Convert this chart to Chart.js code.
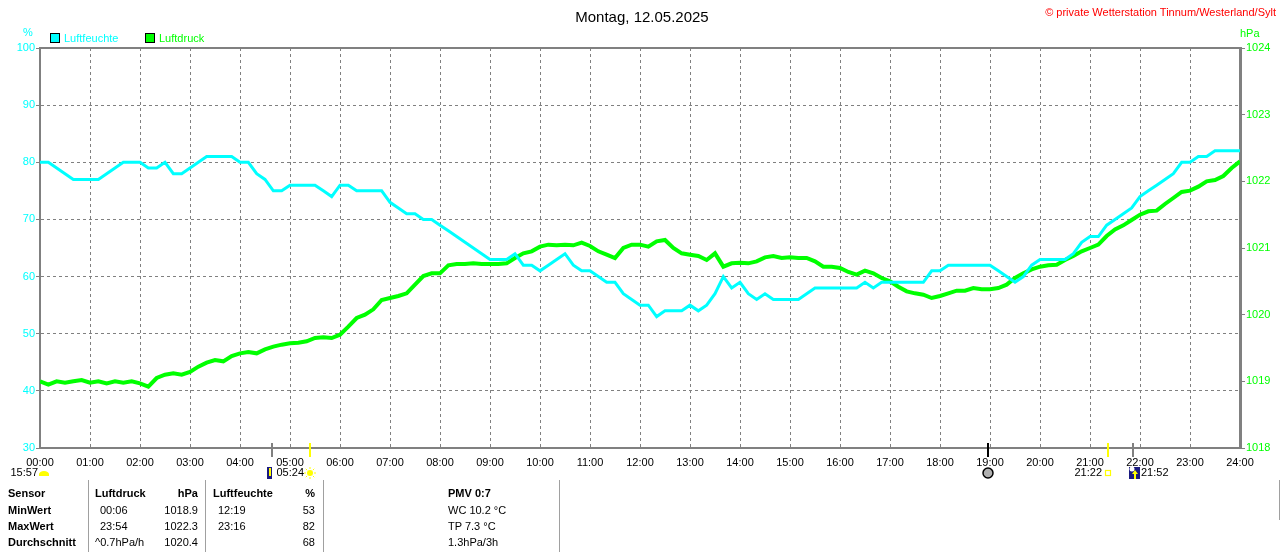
<!DOCTYPE html>
<html>
<head>
<meta charset="utf-8">
<script src="https://cdn.jsdelivr.net/npm/chart.js@4.4.1/dist/chart.umd.min.js"></script>
<style>
body{margin:0;background:#fff;font-family:"Liberation Sans",Arial,sans-serif;}
#wrap{position:relative;width:1280px;height:552px;overflow:hidden;}
#wrap canvas{position:absolute;left:0;top:0;}
.t{position:absolute;font-size:11px;line-height:14px;white-space:nowrap;color:#000;}
.b{font-weight:bold;}
.sep{position:absolute;top:480px;width:1px;height:72px;background:#a0a0a0;}
.box{position:absolute;top:33px;width:8px;height:8px;border:1px solid #000;}
</style>
</head>
<body>
<div id="wrap">
  <canvas id="wetter" width="1280" height="552"></canvas>

  <div class="t" style="left:0;width:1284px;text-align:center;top:8px;font-size:15px;line-height:17px;">Montag, 12.05.2025</div>
  <div class="t" style="right:4px;top:5px;color:#ff0000;">© private Wetterstation Tinnum/Westerland/Sylt</div>

  <div class="t" style="left:23px;top:25px;color:#00ffff;">%</div>
  <div class="t" style="left:1240px;top:26px;color:#00ff00;">hPa</div>

  <div class="box" style="left:50px;background:#00ffff;"></div>
  <div class="t" style="left:64px;top:31px;color:#00ffff;">Luftfeuchte</div>
  <div class="box" style="left:145px;background:#00ff00;"></div>
  <div class="t" style="left:159px;top:31px;color:#00ff00;">Luftdruck</div>

  <div class="sep" style="left:88px;"></div>
  <div class="sep" style="left:205px;"></div>
  <div class="sep" style="left:323px;"></div>
  <div class="sep" style="left:559px;"></div>
  <div class="sep" style="left:1279px;height:40px;"></div>

  <div class="t b" style="left:8px;top:486px;">Sensor</div>
  <div class="t b" style="left:95px;top:486px;">Luftdruck</div>
  <div class="t b" style="right:1082px;top:486px;">hPa</div>
  <div class="t b" style="left:213px;top:486px;">Luftfeuchte</div>
  <div class="t b" style="right:965px;top:486px;">%</div>
  <div class="t b" style="left:448px;top:486px;">PMV 0:7</div>

  <div class="t b" style="left:8px;top:503px;">MinWert</div>
  <div class="t" style="left:100px;top:503px;">00:06</div>
  <div class="t" style="right:1082px;top:503px;">1018.9</div>
  <div class="t" style="left:218px;top:503px;">12:19</div>
  <div class="t" style="right:965px;top:503px;">53</div>
  <div class="t" style="left:448px;top:503px;">WC 10.2 °C</div>

  <div class="t b" style="left:8px;top:519px;">MaxWert</div>
  <div class="t" style="left:100px;top:519px;">23:54</div>
  <div class="t" style="right:1082px;top:519px;">1022.3</div>
  <div class="t" style="left:218px;top:519px;">23:16</div>
  <div class="t" style="right:965px;top:519px;">82</div>
  <div class="t" style="left:448px;top:519px;">TP 7.3 °C</div>

  <div class="t b" style="left:8px;top:535px;">Durchschnitt</div>
  <div class="t" style="left:95px;top:535px;">^0.7hPa/h</div>
  <div class="t" style="right:1082px;top:535px;">1020.4</div>
  <div class="t" style="right:965px;top:535px;">68</div>
  <div class="t" style="left:448px;top:535px;">1.3hPa/3h</div>
</div>

<script>
const hourLabels = ["00:00","01:00","02:00","03:00","04:00","05:00","06:00","07:00","08:00","09:00",
    "10:00","11:00","12:00","13:00","14:00","15:00","16:00","17:00","18:00","19:00",
    "20:00","21:00","22:00","23:00","24:00"];

// one value every 10 minutes, 00:00 .. 24:00
const stepMinutes = 10;

const humidity = [
    80,80,79,78,77,77,
    77,77,78,79,80,80,
    80,79,79,80,78,78,
    79,80,81,81,81,81,
    80,80,78,77,75,75,
    76,76,76,76,75,74,
    76,76,75,75,75,75,
    73,72,71,71,70,70,
    69,68,67,66,65,64,
    63,63,63,64,62,62,
    61,62,63,64,62,61,
    61,60,59,59,57,56,
    55,55,53,54,54,54,
    55,54,55,57,60,58,
    59,57,56,57,56,56,
    56,56,57,58,58,58,
    58,58,58,59,58,59,
    59,59,59,59,59,61,
    61,62,62,62,62,62,
    62,61,60,59,60,62,
    63,63,63,63,64,66,
    67,67,69,70,71,72,
    74,75,76,77,78,80,
    80,81,81,82,82,82,
    82
];

const pressure = [
    1019.0,1018.95,1019.0,1018.98,1019.0,1019.02,
    1018.98,1019.0,1018.97,1019.0,1018.98,1019.0,
    1018.97,1018.92,1019.05,1019.1,1019.12,1019.1,
    1019.14,1019.22,1019.28,1019.32,1019.3,1019.38,
    1019.42,1019.44,1019.42,1019.48,1019.52,1019.55,
    1019.57,1019.58,1019.6,1019.65,1019.66,1019.65,
    1019.7,1019.82,1019.95,1020.0,1020.08,1020.22,
    1020.25,1020.28,1020.32,1020.45,1020.58,1020.62,
    1020.62,1020.74,1020.76,1020.76,1020.77,1020.76,
    1020.76,1020.76,1020.77,1020.85,1020.92,1020.95,
    1021.02,1021.05,1021.04,1021.05,1021.04,1021.08,
    1021.03,1020.95,1020.9,1020.85,1021.0,1021.05,
    1021.05,1021.02,1021.1,1021.12,1021.0,1020.92,
    1020.9,1020.88,1020.82,1020.92,1020.72,1020.77,
    1020.78,1020.77,1020.8,1020.86,1020.88,1020.85,
    1020.86,1020.85,1020.85,1020.8,1020.72,1020.72,
    1020.7,1020.64,1020.6,1020.66,1020.62,1020.55,
    1020.5,1020.42,1020.35,1020.32,1020.3,1020.25,
    1020.28,1020.32,1020.36,1020.36,1020.4,1020.38,
    1020.38,1020.4,1020.45,1020.55,1020.62,1020.68,
    1020.72,1020.74,1020.75,1020.82,1020.88,1020.95,
    1021.0,1021.05,1021.18,1021.28,1021.34,1021.42,
    1021.5,1021.55,1021.56,1021.66,1021.75,1021.84,
    1021.86,1021.92,1022.0,1022.02,1022.08,1022.2,
    1022.3
];

// sun / moon events below the time axis
const events = [
    {time: "00:00", icon: "cloudSun", label: "15:57", side: "left", mark: null},
    {time: "04:38", icon: "moonSet", mark: "#808080"},
    {time: "05:24", icon: "sunRise", label: "05:24", side: "left", mark: "#ffff00"},
    {time: "18:58", icon: "circle", mark: "#000000"},
    {time: "21:22", icon: "sunSet", label: "21:22", side: "left", mark: "#ffff00"},
    {time: "21:52", icon: "moonRise", label: "21:52", side: "right", mark: "#808080"}
];

const FONT = "Liberation Sans";

function toHours(s){
    const p = s.split(":");
    return +p[0] + p[1] / 60;
}

function drawIcon(ctx, kind, x, y){
    ctx.save();
    if(kind === "cloudSun"){
        ctx.fillStyle = "#ffff00";
        ctx.beginPath();
        ctx.ellipse(x, y + 1, 5, 3, 0, Math.PI, 0);
        ctx.fill();
        ctx.fillRect(x - 5, y + 1, 10, 2);
    } else if(kind === "moonSet"){
        ctx.fillStyle = "#1a1a80";
        ctx.fillRect(x - 2, y - 6, 5, 12);
        ctx.fillStyle = "#ffff00";
        ctx.fillRect(x, y - 5, 2, 8);
    } else if(kind === "sunRise"){
        ctx.strokeStyle = "#ffff00";
        ctx.fillStyle = "#ffff00";
        ctx.lineWidth = 1;
        for(let i = 0; i < 8; i++){
            const a = i * Math.PI / 4;
            ctx.beginPath();
            ctx.moveTo(x + Math.cos(a) * 4, y + Math.sin(a) * 4);
            ctx.lineTo(x + Math.cos(a) * 6, y + Math.sin(a) * 6);
            ctx.stroke();
        }
        ctx.beginPath();
        ctx.arc(x, y, 3, 0, Math.PI * 2);
        ctx.fill();
    } else if(kind === "circle"){
        ctx.fillStyle = "#b0b0b0";
        ctx.strokeStyle = "#000";
        ctx.lineWidth = 1.5;
        ctx.beginPath();
        ctx.arc(x, y, 5, 0, Math.PI * 2);
        ctx.fill();
        ctx.stroke();
    } else if(kind === "sunSet"){
        ctx.strokeStyle = "#ffff00";
        ctx.lineWidth = 1.2;
        ctx.strokeRect(x - 2.5, y - 2.5, 5, 5);
    } else if(kind === "moonRise"){
        ctx.fillStyle = "#1a1a80";
        ctx.fillRect(x - 5, y - 6, 11, 12);
        ctx.fillStyle = "#ffffff";
        ctx.beginPath();
        ctx.arc(x - 2, y - 4, 2.5, 0, Math.PI * 2);
        ctx.fill();
        ctx.fillStyle = "#ffff00";
        ctx.beginPath();
        ctx.moveTo(x + 1, y - 3);
        ctx.lineTo(x + 4, y + 1);
        ctx.lineTo(x - 2, y + 1);
        ctx.closePath();
        ctx.fill();
        ctx.fillRect(x, y + 1, 2, 5);
    }
    ctx.restore();
}

const framePlugin = {
    id: "frame",
    beforeDatasetsDraw(chart){
        const {ctx, chartArea} = chart;
        ctx.save();
        ctx.strokeStyle = "#808080";
        ctx.lineWidth = 2;
        ctx.beginPath();
        ctx.moveTo(chartArea.left, chartArea.top);
        ctx.lineTo(chartArea.right, chartArea.top);
        ctx.stroke();
        ctx.restore();
    },
    afterDraw(chart){
        const {ctx, chartArea} = chart;
        const xs = chart.scales.x;
        const y0 = chartArea.bottom;
        ctx.save();
        ctx.font = "11px '" + FONT + "'";
        ctx.textBaseline = "middle";
        ctx.fillStyle = "#000";
        events.forEach(ev => {
            const px = Math.round(xs.getPixelForValue(toHours(ev.time)));
            if(ev.mark){
                ctx.fillStyle = ev.mark;
                ctx.fillRect(px - 1, y0 - 5, 2, 14);
            }
            let ix = px;
            if(ev.icon === "cloudSun") ix = px + 4;
            if(ev.icon === "moonSet") ix = px - 3;
            if(ev.icon === "moonRise") ix = px + 1;
            const iy = y0 + 25;
            drawIcon(ctx, ev.icon, ix, iy);
            if(ev.label){
                ctx.fillStyle = "#000";
                if(ev.side === "left"){
                    ctx.textAlign = "right";
                    ctx.fillText(ev.label, ix - 6, iy);
                } else {
                    ctx.textAlign = "left";
                    ctx.fillText(ev.label, ix + 7, iy);
                }
            }
        });
        ctx.restore();
    }
};

new Chart(document.getElementById("wetter"), {
    type: "line",
    data: {
        datasets: [{
            label: "Luftfeuchte",
            data: humidity.map((v, i) => ({x: i * stepMinutes / 60, y: v})),
            borderColor: "#00ffff",
            borderWidth: 3,
            pointRadius: 0,
            tension: 0,
            yAxisID: "y"
        }, {
            label: "Luftdruck",
            data: pressure.map((v, i) => ({x: i * stepMinutes / 60, y: v})),
            borderColor: "#00ff00",
            borderWidth: 4,
            pointRadius: 0,
            tension: 0,
            yAxisID: "y2"
        }]
    },
    options: {
        responsive: false,
        animation: false,
        layout: {padding: {top: 48, left: 0, right: 0, bottom: 0}},
        plugins: {
            legend: {display: false},
            title: {display: false},
            tooltip: {enabled: false}
        },
        scales: {
            x: {
                type: "linear",
                min: 0,
                max: 24,
                afterFit: s => { s.height = 104; },
                afterBuildTicks: s => { s.ticks = hourLabels.map((l, i) => ({value: i})); },
                ticks: {
                    stepSize: 1,
                    autoSkip: false,
                    maxRotation: 0,
                    color: "#000",
                    font: {family: FONT, size: 11},
                    padding: 8,
                    callback: v => hourLabels[v]
                },
                grid: {color: "#808080", lineWidth: 1, drawTicks: false},
                border: {color: "#808080", width: 2, dash: [3, 3]}
            },
            y: {
                position: "left",
                min: 30,
                max: 100,
                afterFit: s => { s.width = 40; },
                ticks: {stepSize: 10, color: "#00ffff", font: {family: FONT, size: 11}, padding: 1,
                    callback: v => String(v)},
                grid: {color: "#808080", lineWidth: 1, tickLength: 4},
                border: {color: "#808080", width: 2, dash: [3, 3]}
            },
            y2: {
                position: "right",
                min: 1018,
                max: 1024,
                afterFit: s => { s.width = 40; },
                ticks: {stepSize: 1, color: "#00ff00", font: {family: FONT, size: 11}, padding: 1,
                    callback: v => String(v)},
                grid: {drawOnChartArea: false, color: "#808080", tickLength: 5},
                border: {color: "#808080", width: 3}
            }
        }
    },
    plugins: [framePlugin]
});
</script>
</body>
</html>
